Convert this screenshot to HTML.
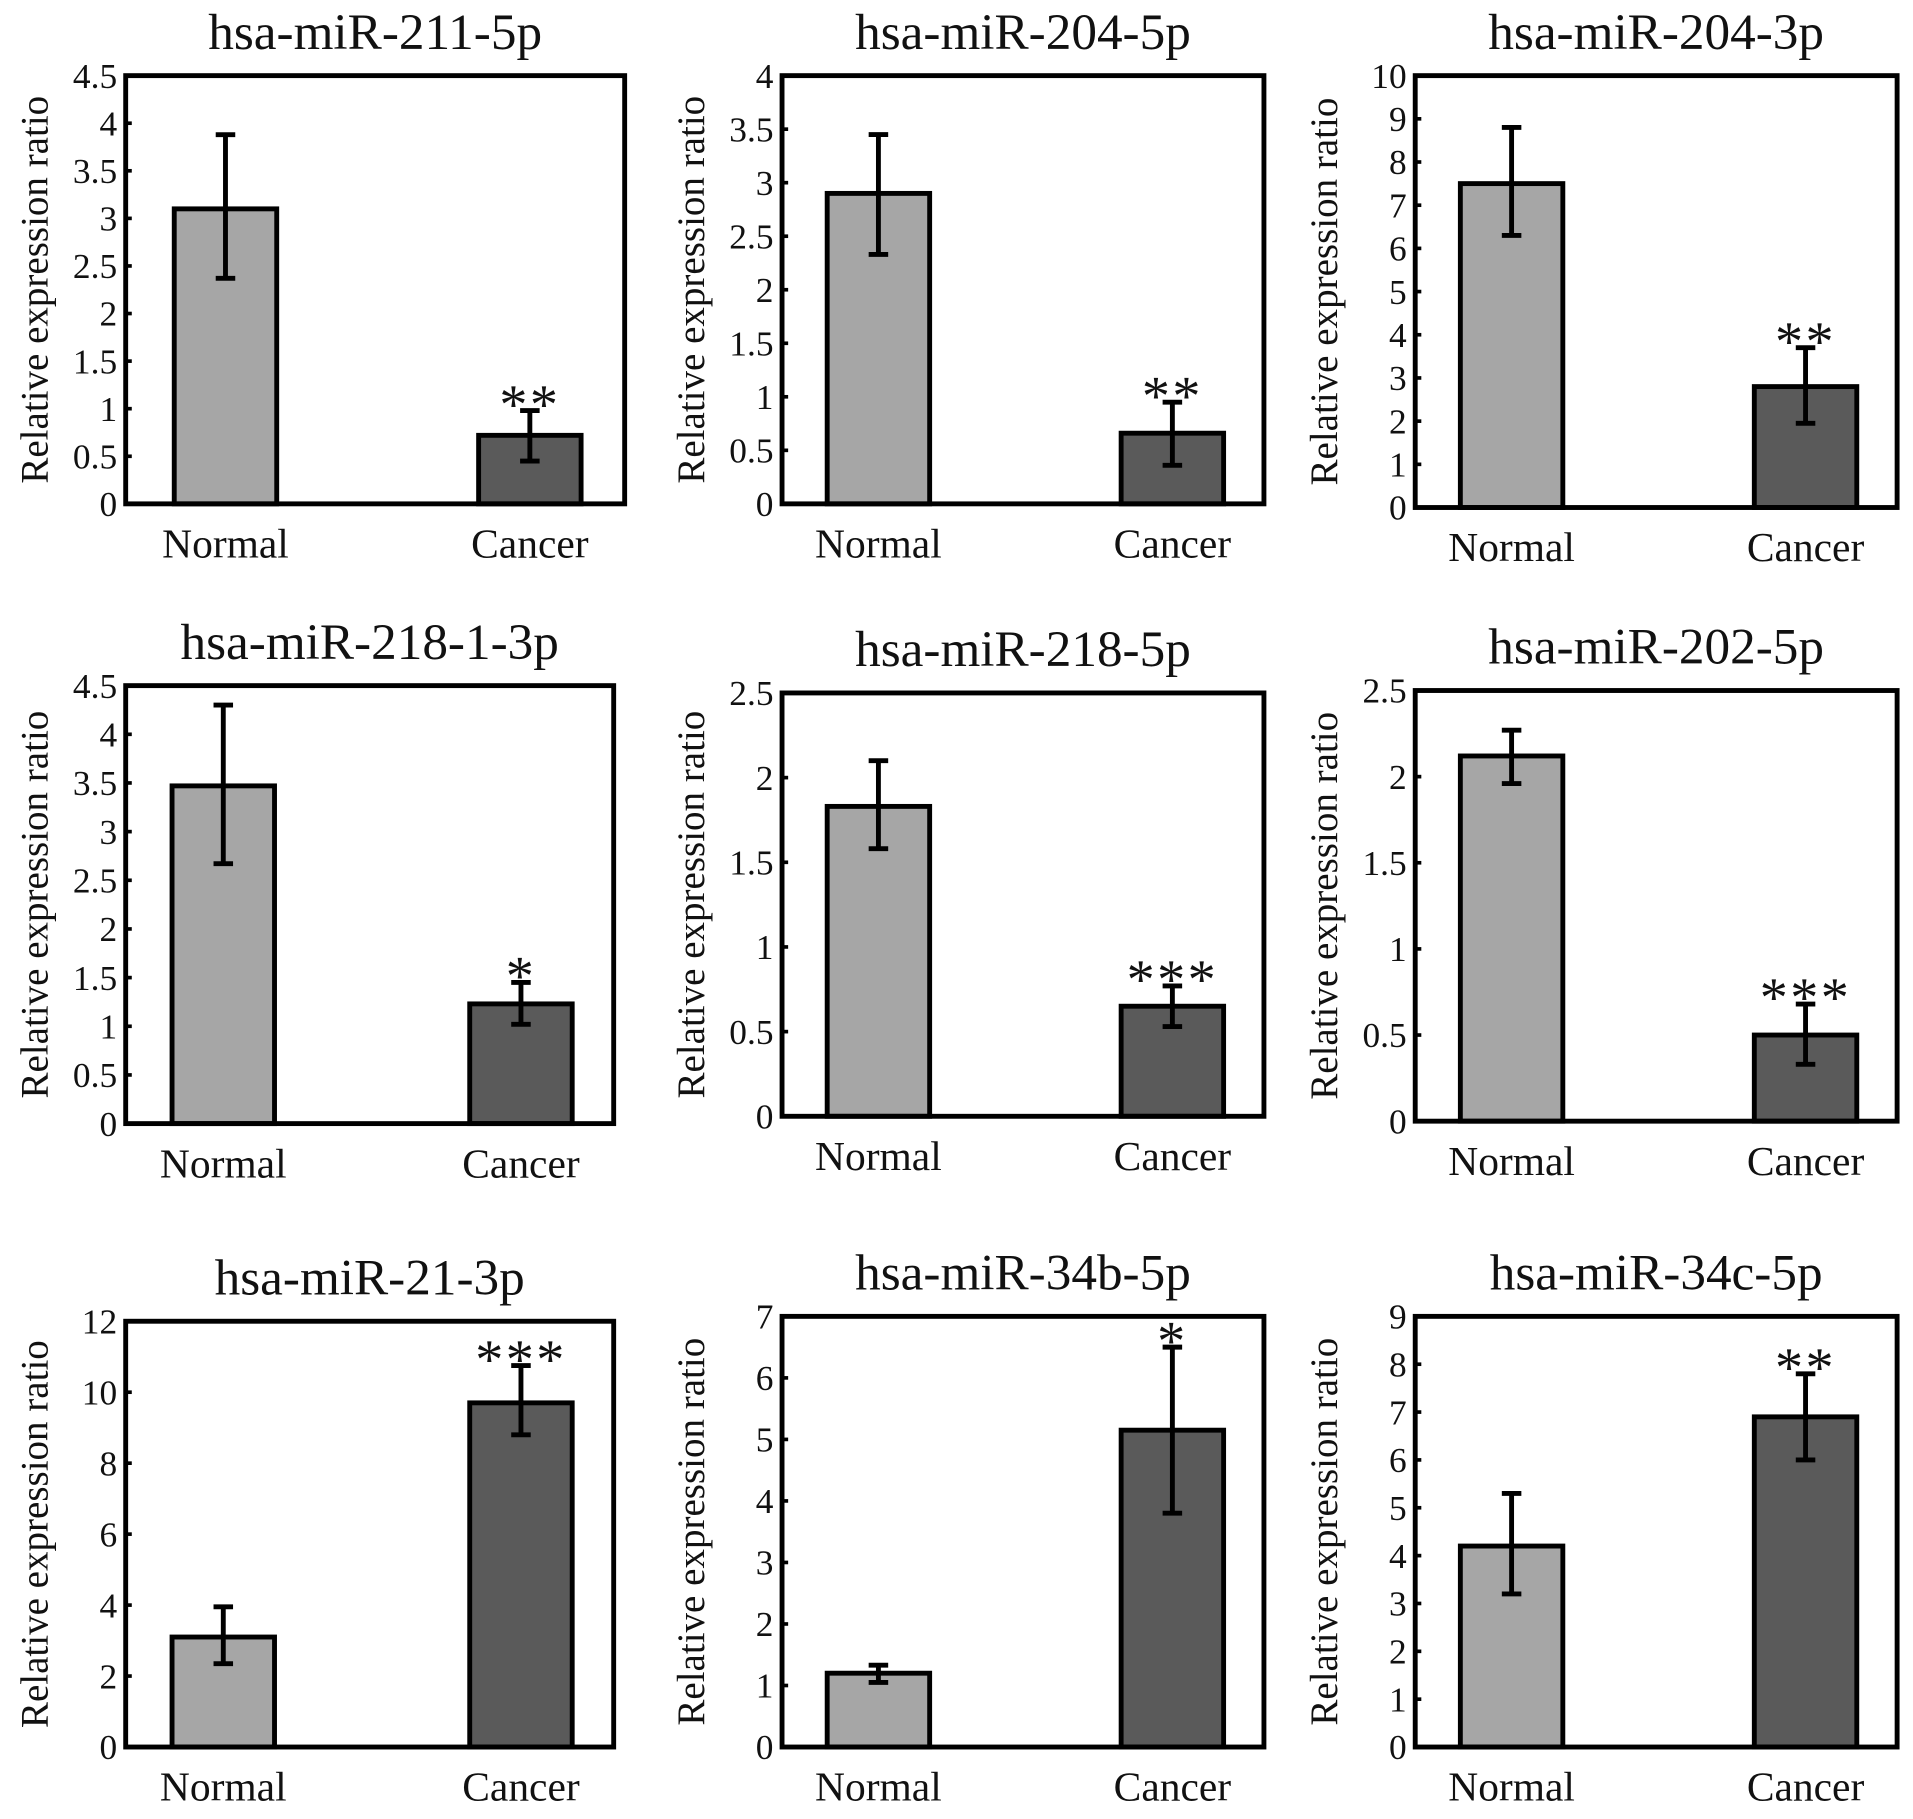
<!DOCTYPE html>
<html><head><meta charset="utf-8"><style>
html,body{margin:0;padding:0;background:#fff;}
svg{display:block;}
text{font-family:"Liberation Serif",serif;fill:#111;}
</style></head><body>
<svg id="fig" width="1913" height="1819" viewBox="0 0 1568 1491" xmlns="http://www.w3.org/2000/svg"></svg>
<script>
const titles = ["hsa-miR-211-5p","hsa-miR-204-5p","hsa-miR-204-3p","hsa-miR-218-1-3p","hsa-miR-218-5p","hsa-miR-202-5p","hsa-miR-21-3p","hsa-miR-34b-5p","hsa-miR-34c-5p"];
const categories = ["Normal","Cancer"];
const yMax = [4.5,4,10,4.5,2.5,2.5,12,7,9];
const yStep = [0.5,0.5,1,0.5,0.5,0.5,2,1,1];
const normalVals = [3.1,2.9,7.5,3.47,1.83,2.12,3.1,1.2,4.2];
const normalLo = [2.37,2.33,6.3,2.67,1.58,1.96,2.35,1.05,3.2];
const normalHi = [3.88,3.45,8.8,4.3,2.1,2.27,3.95,1.33,5.3];
const cancerVals = [0.72,0.66,2.8,1.23,0.65,0.5,9.7,5.15,6.9];
const cancerLo = [0.45,0.36,1.95,1.02,0.53,0.33,8.8,3.8,6.0];
const cancerHi = [0.98,0.95,3.7,1.45,0.77,0.68,10.75,6.5,7.8];
const stars = ["**","**","**","*","***","***","***","*","**"];

const boxes = [[103,62,512,413],[641,62,1036,413],[1160,62,1555,416],
 [103,562,503,921],[641,568,1036,915],[1160,566,1555,919],
 [103,1083,503,1432],[641,1079,1036,1432],[1160,1079,1555,1432]];
const svg = document.getElementById('fig');
const NS = 'http://www.w3.org/2000/svg';
function mk(tag, attrs, parent, txt){
  const e = document.createElementNS(NS, tag);
  for (const k in attrs) e.setAttribute(k, attrs[k]);
  if (txt !== undefined) e.textContent = txt;
  parent.appendChild(e); return e;
}
function fmt(v){ return String(Math.round(v*100)/100); }
boxes.forEach((b,i)=>{
  const [x0,y0,x1,y1] = b;
  const g = mk('g',{},svg);
  
  
  const y = v => y1 - v/yMax[i]*(y1-y0);
  const W = x1-x0;
  const xc = [x0+0.2*W, x0+0.81*W];
  const t = mk('text',{x:(x0+x1)/2,y:y0-22,'text-anchor':'middle','font-size':42},g,titles[i]);
  
  
  const yl = mk('text',{x:0,y:0,'text-anchor':'middle','font-size':32,transform:`translate(${x0-64},${(y0+y1)/2}) rotate(-90)`},g,'Relative expression ratio');
  
  
  const n = Math.round(yMax[i]/yStep[i]);
  for (let k=0;k<=n;k++){
    const v = k*yStep[i], yy = y(v);
    mk('line',{x1:x0,x2:x0+5,y1:yy,y2:yy,stroke:'#000','stroke-width':3},g);
    const tl = mk('text',{x:x0-7,y:yy+10,'text-anchor':'end','font-size':29},g,fmt(v));
    
    
  }
  const vals=[normalVals[i],cancerVals[i]], lo=[normalLo[i],cancerLo[i]], hi=[normalHi[i],cancerHi[i]];
  const fills=['#a6a6a6','#5a5a5a'];
  for (let j=0;j<2;j++){
    const r = mk('rect',{x:xc[j]-42,y:y(vals[j]),width:84,height:y1-y(vals[j]),fill:fills[j],stroke:'#000','stroke-width':4},g);
    
    
    const e = mk('path',{d:`M${xc[j]},${y(lo[j])}V${y(hi[j])}M${xc[j]-8},${y(lo[j])}H${xc[j]+8}M${xc[j]-8},${y(hi[j])}H${xc[j]+8}`,stroke:'#000','stroke-width':4,fill:'none'},g);
    
    
    const xl = mk('text',{x:xc[j],y:y1+44,'text-anchor':'middle','font-size':34},g,categories[j]);
    
    
  }
  const s = mk('text',{x:xc[1],y:y(cancerHi[i])+10,'text-anchor':'middle','font-size':46,'letter-spacing':2},g,stars[i]);
  
  
  const fr = mk('rect',{x:x0,y:y0,width:W,height:y1-y0,fill:'none',stroke:'#000','stroke-width':4},g);
  
  
});
</script>
</body></html>
